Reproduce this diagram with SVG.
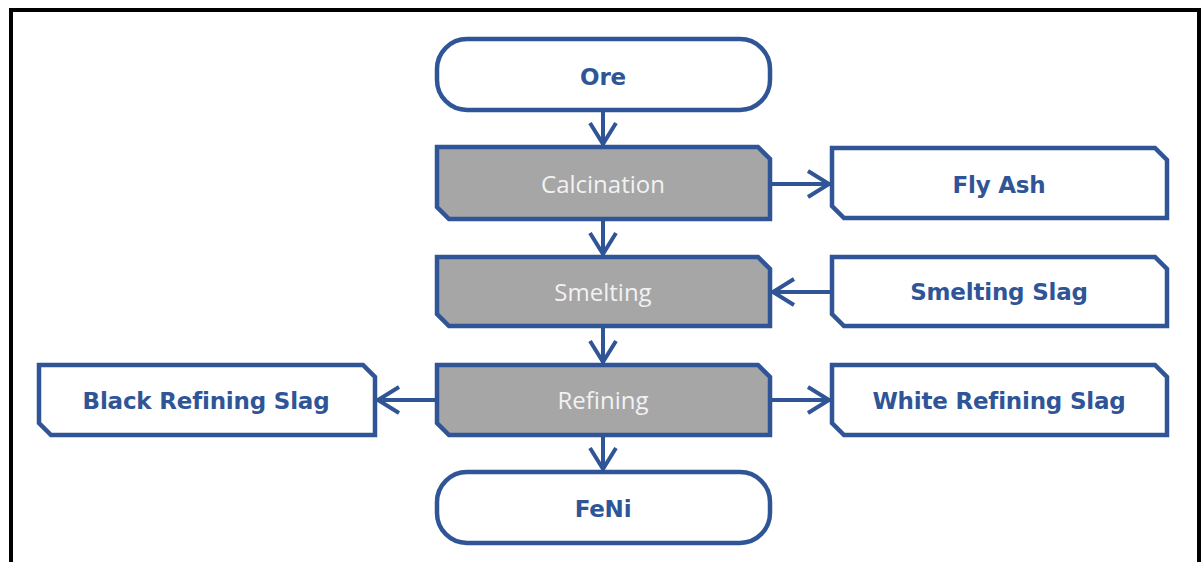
<svg xmlns="http://www.w3.org/2000/svg" width="1203" height="562" viewBox="0 0 1203 562">
<defs>
<style>
.term{fill:#ffffff;stroke:#2F5597;stroke-width:4.5}
.proc{fill:#A6A6A6;stroke:#2F5597;stroke-width:4.5;stroke-linejoin:miter}
.out{fill:#ffffff;stroke:#2F5597;stroke-width:4.5;stroke-linejoin:miter}
.lb{font-family:"DejaVu Sans","Liberation Sans",sans-serif;font-weight:bold;font-size:23px;fill:#2F5597;text-anchor:middle;letter-spacing:-0.2px}
.lw{font-family:"Open Sans","Liberation Sans",sans-serif;font-size:24px;fill:#F2F2F2;text-anchor:middle}
.con{stroke:#2F5597;stroke-width:4;fill:none;marker-end:url(#ah)}
</style>
<marker id="ah" markerUnits="userSpaceOnUse" markerWidth="40" markerHeight="40" viewBox="-30 -20 40 40" refX="0" refY="0" orient="auto" overflow="visible">
<path d="M-22,-13 L-1,0 L-22,13" fill="none" stroke="#2F5597" stroke-width="4"/>
</marker>
</defs>
<rect x="0" y="0" width="1203" height="562" fill="#ffffff"/>
<rect x="11" y="10" width="1188" height="600" fill="none" stroke="#000000" stroke-width="4"/>
<g id="connectors">
<line class="con" x1="603" y1="112" x2="603" y2="145"/>
<line class="con" x1="603" y1="221" x2="603" y2="255"/>
<line class="con" x1="603" y1="328" x2="603" y2="363"/>
<line class="con" x1="603" y1="437" x2="603" y2="470"/>
<line class="con" x1="772" y1="184" x2="830" y2="184"/>
<line class="con" x1="832" y1="292" x2="772" y2="292"/>
<line class="con" x1="435" y1="400" x2="377" y2="400"/>
<line class="con" x1="772" y1="400" x2="830" y2="400"/>
</g>
<g id="ore">
<rect class="term" x="437" y="39" width="333" height="71" rx="30"/>
<text class="lb" x="603" y="85">Ore</text>
</g>
<g id="calcination">
<path class="proc" d="M437,147 H758 L770,159 V219 H449 L437,207 Z"/>
<text class="lw" x="603" y="193">Calcination</text>
</g>
<g id="flyash">
<path class="out" d="M832,148 H1155 L1167,160 V218 H844 L832,206 Z"/>
<text class="lb" x="999" y="193">Fly Ash</text>
</g>
<g id="smelting">
<path class="proc" d="M437,257 H758 L770,269 V326 H449 L437,314 Z"/>
<text class="lw" x="603" y="301">Smelting</text>
</g>
<g id="smeltingslag">
<path class="out" d="M832,257 H1155 L1167,269 V326 H844 L832,314 Z"/>
<text class="lb" x="999" y="300">Smelting Slag</text>
</g>
<g id="refining">
<path class="proc" d="M437,365 H758 L770,377 V435 H449 L437,423 Z"/>
<text class="lw" x="603" y="409">Refining</text>
</g>
<g id="blackslag">
<path class="out" d="M39,365 H363 L375,377 V435 H51 L39,423 Z"/>
<text class="lb" x="206" y="409">Black Refining Slag</text>
</g>
<g id="whiteslag">
<path class="out" d="M832,365 H1155 L1167,377 V435 H844 L832,423 Z"/>
<text class="lb" x="999" y="409">White Refining Slag</text>
</g>
<g id="feni">
<rect class="term" x="437" y="472" width="333" height="71" rx="30"/>
<text class="lb" x="603" y="517">FeNi</text>
</g>
</svg>
